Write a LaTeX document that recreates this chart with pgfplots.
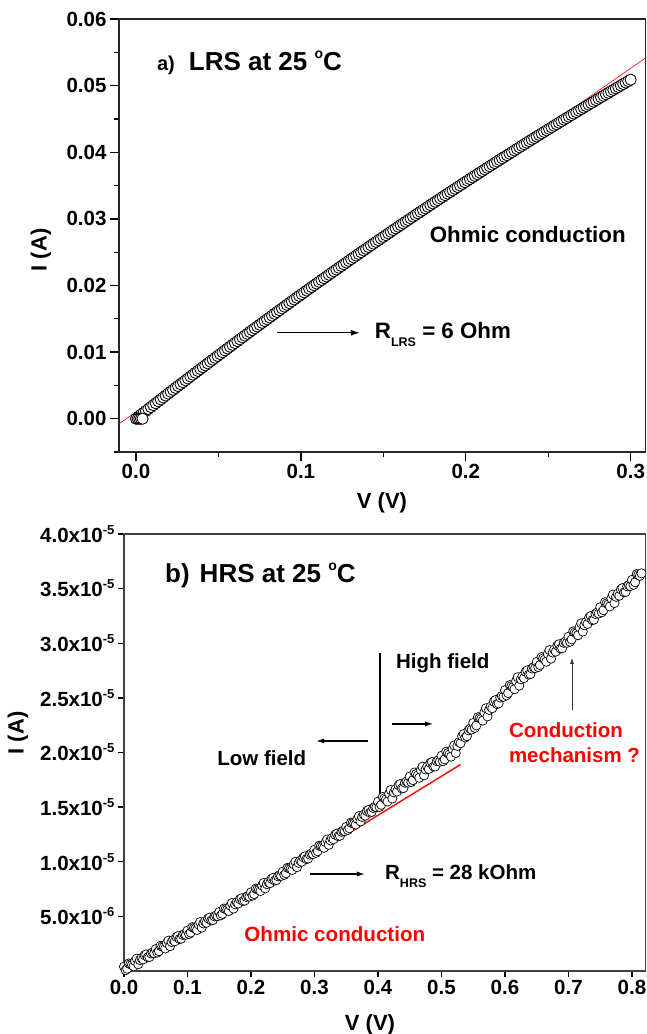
\documentclass[border=0pt]{standalone}
\usepackage{pgfplots}
\pgfplotsset{compat=1.18}
\usepackage{fontspec}
\setmainfont{Liberation Sans}
\usetikzlibrary{arrows.meta}
\newcommand{\fs}[1]{\fontsize{#1}{#1}\selectfont\bfseries}
\newcommand{\sups}[1]{\raisebox{8pt}{\fontsize{13}{13}\selectfont\bfseries #1}}
\newcommand{\dC}{\raisebox{12pt}{\fontsize{14}{14}\selectfont\bfseries o}C}
\newcommand{\subs}[1]{\raisebox{-8pt}{\fontsize{12.5}{12.5}\selectfont\bfseries #1}}

\pgfplotstableread{
V I
0.0015 0.000291
0.0030 0.000582
0.0045 0.000873
0.0060 0.001163
0.0075 0.001453
0.0090 0.001742
0.0105 0.002031
0.0120 0.002320
0.0135 0.002608
0.0150 0.002896
0.0165 0.003184
0.0180 0.003471
0.0195 0.003758
0.0210 0.004044
0.0225 0.004330
0.0240 0.004616
0.0255 0.004901
0.0270 0.005186
0.0285 0.005471
0.0300 0.005755
0.0315 0.006039
0.0330 0.006322
0.0345 0.006605
0.0360 0.006888
0.0375 0.007171
0.0390 0.007453
0.0405 0.007735
0.0420 0.008016
0.0435 0.008297
0.0450 0.008577
0.0465 0.008857
0.0480 0.009137
0.0495 0.009417
0.0510 0.009696
0.0525 0.009975
0.0540 0.010253
0.0555 0.010531
0.0570 0.010808
0.0585 0.011085
0.0600 0.011362
0.0615 0.011639
0.0630 0.011915
0.0645 0.012191
0.0660 0.012466
0.0675 0.012741
0.0690 0.013015
0.0705 0.013289
0.0720 0.013563
0.0735 0.013837
0.0750 0.014110
0.0765 0.014383
0.0780 0.014655
0.0795 0.014927
0.0810 0.015199
0.0825 0.015470
0.0840 0.015741
0.0855 0.016012
0.0870 0.016282
0.0885 0.016552
0.0900 0.016821
0.0915 0.017090
0.0930 0.017359
0.0945 0.017627
0.0960 0.017895
0.0975 0.018163
0.0990 0.018430
0.1005 0.018697
0.1020 0.018963
0.1035 0.019229
0.1050 0.019495
0.1065 0.019761
0.1080 0.020026
0.1095 0.020290
0.1110 0.020554
0.1125 0.020818
0.1140 0.021082
0.1155 0.021345
0.1170 0.021608
0.1185 0.021870
0.1200 0.022132
0.1215 0.022394
0.1230 0.022655
0.1245 0.022916
0.1260 0.023177
0.1275 0.023437
0.1290 0.023697
0.1305 0.023956
0.1320 0.024215
0.1335 0.024474
0.1350 0.024732
0.1365 0.024990
0.1380 0.025248
0.1395 0.025505
0.1410 0.025762
0.1425 0.026019
0.1440 0.026275
0.1455 0.026531
0.1470 0.026786
0.1485 0.027041
0.1500 0.027296
0.1515 0.027550
0.1530 0.027804
0.1545 0.028057
0.1560 0.028310
0.1575 0.028563
0.1590 0.028816
0.1605 0.029068
0.1620 0.029319
0.1635 0.029571
0.1650 0.029822
0.1665 0.030072
0.1680 0.030322
0.1695 0.030572
0.1710 0.030822
0.1725 0.031071
0.1740 0.031320
0.1755 0.031568
0.1770 0.031816
0.1785 0.032064
0.1800 0.032311
0.1815 0.032558
0.1830 0.032804
0.1845 0.033050
0.1860 0.033296
0.1875 0.033541
0.1890 0.033786
0.1905 0.034031
0.1920 0.034275
0.1935 0.034519
0.1950 0.034763
0.1965 0.035006
0.1980 0.035249
0.1995 0.035491
0.2010 0.035733
0.2025 0.035975
0.2040 0.036216
0.2055 0.036457
0.2070 0.036698
0.2085 0.036938
0.2100 0.037178
0.2115 0.037418
0.2130 0.037657
0.2145 0.037896
0.2160 0.038134
0.2175 0.038372
0.2190 0.038609
0.2205 0.038846
0.2220 0.039083
0.2235 0.039320
0.2250 0.039556
0.2265 0.039792
0.2280 0.040027
0.2295 0.040262
0.2310 0.040497
0.2325 0.040731
0.2340 0.040965
0.2355 0.041199
0.2370 0.041432
0.2385 0.041665
0.2400 0.041897
0.2415 0.042129
0.2430 0.042361
0.2445 0.042592
0.2460 0.042823
0.2475 0.043054
0.2490 0.043284
0.2505 0.043514
0.2520 0.043744
0.2535 0.043973
0.2550 0.044202
0.2565 0.044430
0.2580 0.044658
0.2595 0.044886
0.2610 0.045113
0.2625 0.045340
0.2640 0.045566
0.2655 0.045792
0.2670 0.046018
0.2685 0.046244
0.2700 0.046469
0.2715 0.046694
0.2730 0.046918
0.2745 0.047142
0.2760 0.047365
0.2775 0.047588
0.2790 0.047811
0.2805 0.048034
0.2820 0.048256
0.2835 0.048478
0.2850 0.048699
0.2865 0.048920
0.2880 0.049140
0.2895 0.049361
0.2910 0.049581
0.2925 0.049800
0.2940 0.050019
0.2955 0.050238
0.2970 0.050456
0.2985 0.050674
0.3000 0.050892
}\lrsdata

\pgfplotstableread{
V I
0.0000 0.040
0.0025 0.008
0.0050 0.021
0.0075 0.069
0.0100 0.062
0.0125 0.055
0.0150 0.043
0.0175 0.091
0.0200 0.114
0.0225 0.062
0.0250 0.100
0.0275 0.118
0.0300 0.106
0.0325 0.144
0.0350 0.152
0.0375 0.125
0.0400 0.128
0.0425 0.161
0.0450 0.169
0.0475 0.162
0.0500 0.200
0.0525 0.169
0.0550 0.182
0.0575 0.231
0.0600 0.224
0.0625 0.218
0.0650 0.206
0.0675 0.255
0.0700 0.278
0.0725 0.227
0.0750 0.265
0.0775 0.284
0.0800 0.272
0.0825 0.311
0.0850 0.319
0.0875 0.293
0.0900 0.296
0.0925 0.330
0.0950 0.338
0.0975 0.332
0.1000 0.370
0.1025 0.339
0.1050 0.352
0.1075 0.401
0.1100 0.394
0.1125 0.388
0.1150 0.376
0.1175 0.425
0.1200 0.448
0.1225 0.397
0.1250 0.435
0.1275 0.454
0.1300 0.442
0.1325 0.481
0.1350 0.489
0.1375 0.463
0.1400 0.466
0.1425 0.500
0.1450 0.508
0.1475 0.502
0.1500 0.540
0.1525 0.509
0.1550 0.523
0.1575 0.572
0.1600 0.566
0.1625 0.560
0.1650 0.549
0.1675 0.598
0.1700 0.622
0.1725 0.571
0.1750 0.610
0.1775 0.629
0.1800 0.618
0.1825 0.657
0.1850 0.666
0.1875 0.640
0.1900 0.644
0.1925 0.678
0.1950 0.687
0.1975 0.681
0.2000 0.720
0.2025 0.690
0.2050 0.704
0.2075 0.754
0.2100 0.748
0.2125 0.743
0.2150 0.732
0.2175 0.782
0.2200 0.806
0.2225 0.756
0.2250 0.795
0.2275 0.815
0.2300 0.804
0.2325 0.844
0.2350 0.853
0.2375 0.828
0.2400 0.832
0.2425 0.867
0.2450 0.876
0.2475 0.871
0.2500 0.910
0.2525 0.880
0.2550 0.895
0.2575 0.945
0.2600 0.940
0.2625 0.935
0.2650 0.925
0.2675 0.975
0.2700 1.000
0.2725 0.950
0.2750 0.990
0.2775 1.010
0.2800 1.000
0.2825 1.040
0.2850 1.050
0.2875 1.025
0.2900 1.030
0.2925 1.065
0.2950 1.075
0.2975 1.070
0.3000 1.110
0.3025 1.081
0.3050 1.096
0.3075 1.147
0.3100 1.142
0.3125 1.138
0.3150 1.128
0.3175 1.179
0.3200 1.204
0.3225 1.155
0.3250 1.195
0.3275 1.216
0.3300 1.206
0.3325 1.247
0.3350 1.257
0.3375 1.233
0.3400 1.238
0.3425 1.274
0.3450 1.284
0.3475 1.280
0.3500 1.320
0.3525 1.291
0.3550 1.307
0.3575 1.358
0.3600 1.354
0.3625 1.350
0.3650 1.341
0.3675 1.392
0.3700 1.418
0.3725 1.369
0.3750 1.410
0.3775 1.431
0.3800 1.422
0.3825 1.463
0.3850 1.474
0.3875 1.450
0.3900 1.456
0.3925 1.492
0.3950 1.503
0.3975 1.499
0.4000 1.550
0.4025 1.502
0.4050 1.521
0.4075 1.593
0.4100 1.581
0.4125 1.570
0.4150 1.551
0.4175 1.623
0.4200 1.657
0.4225 1.579
0.4250 1.635
0.4275 1.662
0.4300 1.643
0.4325 1.700
0.4350 1.711
0.4375 1.671
0.4400 1.674
0.4425 1.724
0.4450 1.735
0.4475 1.724
0.4500 1.780
0.4525 1.730
0.4550 1.747
0.4575 1.817
0.4600 1.803
0.4625 1.790
0.4650 1.769
0.4675 1.839
0.4700 1.871
0.4725 1.791
0.4750 1.845
0.4775 1.870
0.4800 1.849
0.4825 1.904
0.4850 1.913
0.4875 1.871
0.4900 1.872
0.4925 1.920
0.4950 1.929
0.4975 1.916
0.5000 1.970
0.5025 1.920
0.5050 1.938
0.5075 2.008
0.5100 1.995
0.5125 1.982
0.5150 1.962
0.5175 2.032
0.5200 2.065
0.5225 1.995
0.5250 2.060
0.5275 2.095
0.5300 2.085
0.5325 2.150
0.5350 2.170
0.5375 2.138
0.5400 2.150
0.5425 2.203
0.5450 2.218
0.5475 2.210
0.5500 2.270
0.5525 2.225
0.5550 2.248
0.5575 2.323
0.5600 2.315
0.5625 2.307
0.5650 2.292
0.5675 2.367
0.5700 2.405
0.5725 2.330
0.5750 2.390
0.5775 2.420
0.5800 2.405
0.5825 2.465
0.5850 2.480
0.5875 2.443
0.5900 2.450
0.5925 2.503
0.5950 2.518
0.5975 2.510
0.6000 2.570
0.6025 2.523
0.6050 2.544
0.6075 2.617
0.6100 2.607
0.6125 2.597
0.6150 2.580
0.6175 2.653
0.6200 2.689
0.6225 2.612
0.6250 2.670
0.6275 2.698
0.6300 2.681
0.6325 2.739
0.6350 2.752
0.6375 2.713
0.6400 2.718
0.6425 2.769
0.6450 2.782
0.6475 2.772
0.6500 2.830
0.6525 2.782
0.6550 2.801
0.6575 2.873
0.6600 2.861
0.6625 2.850
0.6650 2.831
0.6675 2.903
0.6700 2.937
0.6725 2.859
0.6750 2.915
0.6775 2.942
0.6800 2.923
0.6825 2.980
0.6850 2.991
0.6875 2.951
0.6900 2.954
0.6925 3.004
0.6950 3.015
0.6975 3.004
0.7000 3.060
0.7025 3.014
0.7050 3.035
0.7075 3.109
0.7100 3.099
0.7125 3.090
0.7150 3.073
0.7175 3.147
0.7200 3.183
0.7225 3.107
0.7250 3.165
0.7275 3.194
0.7300 3.177
0.7325 3.236
0.7350 3.249
0.7375 3.211
0.7400 3.216
0.7425 3.268
0.7450 3.281
0.7475 3.272
0.7500 3.330
0.7525 3.283
0.7550 3.303
0.7575 3.376
0.7600 3.365
0.7625 3.355
0.7650 3.337
0.7675 3.410
0.7700 3.445
0.7725 3.368
0.7750 3.425
0.7775 3.453
0.7800 3.435
0.7825 3.493
0.7850 3.505
0.7875 3.466
0.7900 3.470
0.7925 3.521
0.7950 3.533
0.7975 3.523
0.8000 3.580
0.8025 3.535
0.8050 3.558
0.8075 3.633
0.8100 3.625
0.8125 3.617
0.8150 3.640
}\hrsdata

\begin{document}
\begin{tikzpicture}
\path[use as bounding box] (0pt,0pt) rectangle (647pt,-1034pt);

% ---------- panel a ----------
\begin{axis}[
  at={(119pt,-452pt)}, anchor=south west,
  scale only axis, width=526.5pt, height=433pt,
  xmin=-0.0103, xmax=0.309, ymin=-0.005, ymax=0.06,
  scaled x ticks=false, scaled y ticks=false,
  xtick={0,0.1,0.2,0.3}, xticklabels={0.0,0.1,0.2,0.3},
  ytick={0,0.01,0.02,0.03,0.04,0.05,0.06},
  yticklabels={0.00,0.01,0.02,0.03,0.04,0.05,0.06},
  minor xtick={0.05,0.15,0.25},
  minor ytick={-0.005,0.005,0.015,0.025,0.035,0.045,0.055},
  tick align=outside, xtick pos=left, ytick pos=left,
  major tick length=9pt, minor tick length=5pt,
  every tick/.style={line width=1.3pt, black},
  axis line style={line width=1.4pt, black!85},
  ticklabel style={font=\fs{20.5}},
  clip=false,
]
\addplot[only marks, mark=*, mark size=5.6pt,
  mark options={fill=white, draw=black, line width=0.85pt}] table[x=V,y=I] {\lrsdata};
\addplot[only marks, mark=*, mark size=5.6pt,
  mark options={fill=white, draw=black, line width=0.85pt}] coordinates {
  (0,0) (0.001,0) (0.002,0) (0.003,0) (0.004,0)};
\addplot[red, line width=0.6pt] coordinates {(-0.0103,-0.000772) (0.309,0.054148)};

\node[anchor=west, inner sep=0] at (axis cs:0.0127,0.0534)
  {{\fs{20}a)}\hspace{14pt}{\fs{26}LRS at 25 \dC}};
\node[font=\fs{22.3}, inner sep=0] at (axis cs:0.2376,0.0276) {Ohmic conduction};
\draw[line width=1.3pt, -{Latex[length=9pt,width=6pt]}] (axis cs:0.0855,0.0129) -- (axis cs:0.1358,0.0129);
\node[anchor=west, inner sep=0, font=\fs{22.3}] at (axis cs:0.1448,0.0127) {R\subs{LRS} = 6 Ohm};
\end{axis}

% ---------- panel b ----------
\begin{axis}[
  at={(124pt,-971pt)}, anchor=south west,
  scale only axis, width=521.5pt, height=437pt,
  xmin=0, xmax=0.8213, ymin=0, ymax=4,
  scaled x ticks=false, scaled y ticks=false,
  xtick={0,0.1,0.2,0.3,0.4,0.5,0.6,0.7,0.8},
  xticklabels={0.0,0.1,0.2,0.3,0.4,0.5,0.6,0.7,0.8},
  ytick={0.5,1,1.5,2,2.5,3,3.5,4},
  yticklabels={5.0x10\sups{-6},1.0x10\sups{-5},1.5x10\sups{-5},2.0x10\sups{-5},
    2.5x10\sups{-5},3.0x10\sups{-5},3.5x10\sups{-5},4.0x10\sups{-5}},
  tick align=outside, xtick pos=left, ytick pos=left,
  major tick length=6pt,
  every tick/.style={line width=1.3pt, black},
  axis line style={line width=1.4pt, black!75},
  ticklabel style={font=\fs{20.5}},
  clip=false,
]
\addplot[only marks, mark=*, mark size=4.6pt,
  mark options={fill=white, draw=black, line width=0.7pt}] table[x=V,y=I] {\hrsdata};
\addplot[red, line width=1.4pt] coordinates {(0.01,0.032) (0.53,1.89)};

\node[anchor=west, inner sep=0, font=\fs{26}] at (axis cs:0.0646,3.617) {b)\hspace{10pt}HRS at 25 \dC};
\draw[line width=1.3pt] (axis cs:0.403,1.54) -- (axis cs:0.403,2.91);
\node[font=\fs{20.5}, inner sep=0] at (axis cs:0.502,2.82) {High field};
\draw[line width=1.3pt, -{Latex[length=8pt,width=5pt]}] (axis cs:0.422,2.262) -- (axis cs:0.487,2.262);
\draw[line width=1.3pt, -{Latex[length=8pt,width=5pt]}] (axis cs:0.3843,2.106) -- (axis cs:0.3024,2.106);
\node[font=\fs{20.5}, inner sep=0] at (axis cs:0.217,1.95) {Low field};
\draw[line width=0.8pt, black!80, -{Latex[length=6pt,width=4pt]}] (axis cs:0.7055,2.39) -- (axis cs:0.7055,2.866);
\node[anchor=west, inner sep=0, font=\fs{20.5}, text=red] at (axis cs:0.606,2.207) {Conduction};
\node[anchor=west, inner sep=0, font=\fs{20.5}, text=red] at (axis cs:0.606,1.978) {mechanism ?};
\draw[line width=1.3pt, -{Latex[length=8pt,width=5pt]}] (axis cs:0.293,0.888) -- (axis cs:0.3795,0.888);
\node[anchor=west, inner sep=0, font=\fs{20.5}] at (axis cs:0.411,0.872) {R\subs{HRS} = 28 kOhm};
\node[font=\fs{20.6}, inner sep=0, text=red] at (axis cs:0.332,0.339) {Ohmic conduction};
\end{axis}

\node[rotate=90, font=\fs{22}] at (41pt,-250pt) {I (A)};
\node[font=\fs{22}] at (382pt,-503pt) {V (V)};
\node[rotate=90, font=\fs{22}] at (18pt,-733pt) {I (A)};
\node[font=\fs{22}] at (370pt,-1025pt) {V (V)};
\end{tikzpicture}
\end{document}
